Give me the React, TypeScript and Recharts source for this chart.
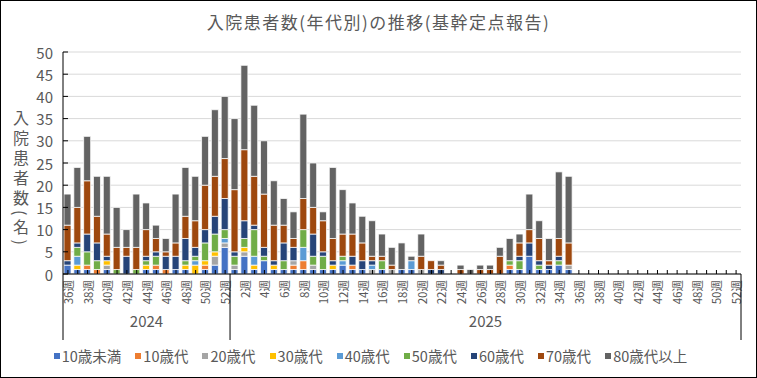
import { BarChart, Bar, XAxis, YAxis, CartesianGrid, Legend } from "recharts";

// 週（カテゴリ）
const weeks2024 = [36, 37, 38, 39, 40, 41, 42, 43, 44, 45, 46, 47, 48, 49, 50, 51, 52];
const weeks2025 = [
  1, 2, 3, 4, 5, 6, 7, 8, 9, 10, 11, 12, 13, 14, 15, 16, 17, 18, 19, 20, 21, 22, 23, 24, 25, 26,
  27, 28, 29, 30, 31, 32, 33, 34, 35, 36, 37, 38, 39, 40, 41, 42, 43, 44, 45, 46, 47, 48, 49, 50, 51, 52,
];
const yAxisTicks = [0, 5, 10, 15, 20, 25, 30, 35, 40, 45, 50];

// 年代別の入院患者数（2024年36週〜2025年35週、以降は未報告）
const under10 = [
  2, 1, 1, 0, 1, 0, 0, 0, 1, 1, 0, 1, 1, 0, 1, 2, 6,
  1, 4, 1, 3, 1, 1, 1, 1, 1, 1, 1, 2, 1, 1, 0, 1, 0, 1, 1, 0, 0, 0, 0, 0, 0, 0, 0, 0, 1, 1, 4, 1, 1, 2, 1,
];
const teens = [
  0, 0, 1, 1, 0, 0, 0, 0, 0, 1, 1, 0, 0, 0, 1, 0, 0,
  0, 0, 0, 0, 0, 0, 1, 2, 0, 0, 0, 0, 1, 0, 0, 0, 0, 0, 0, 0, 0, 0, 0, 0, 0, 0, 0, 0, 1, 0, 0, 0, 0, 0, 0,
];
const twenties = [
  0, 0, 0, 0, 1, 0, 0, 0, 0, 0, 0, 0, 0, 0, 0, 2, 1,
  1, 1, 0, 0, 0, 0, 1, 0, 1, 0, 0, 0, 0, 0, 1, 0, 1, 0, 0, 1, 0, 0, 0, 0, 0, 0, 0, 0, 0, 0, 0, 0, 0, 0, 1,
];
const thirties = [
  0, 1, 0, 0, 1, 0, 0, 0, 1, 0, 0, 0, 1, 2, 1, 1, 0,
  0, 1, 1, 0, 1, 0, 0, 0, 0, 0, 1, 0, 0, 0, 0, 0, 0, 0, 0, 0, 0, 0, 0, 0, 0, 0, 0, 0, 0, 0, 0, 0, 0, 0, 0,
];
const forties = [
  0, 2, 0, 0, 0, 0, 0, 0, 0, 0, 0, 0, 0, 1, 0, 0, 1,
  0, 0, 2, 0, 0, 0, 0, 3, 0, 0, 0, 1, 0, 0, 1, 0, 0, 0, 2, 0, 0, 0, 0, 0, 0, 0, 0, 0, 0, 0, 0, 0, 0, 0, 0,
];
const fifties = [
  0, 2, 3, 2, 0, 1, 0, 1, 1, 2, 0, 0, 1, 1, 4, 4, 2,
  2, 2, 6, 1, 0, 2, 0, 4, 2, 3, 0, 1, 0, 0, 0, 2, 0, 0, 0, 0, 0, 0, 0, 0, 0, 0, 0, 0, 1, 2, 0, 1, 0, 1, 0,
];
const sixties = [
  1, 1, 4, 4, 1, 0, 4, 0, 1, 1, 3, 3, 5, 2, 3, 4, 7,
  1, 4, 1, 2, 1, 4, 3, 0, 5, 1, 1, 0, 2, 2, 1, 0, 0, 0, 0, 0, 1, 1, 0, 0, 0, 0, 0, 0, 0, 1, 3, 1, 1, 1, 0,
];
const seventies = [
  8, 8, 12, 6, 5, 5, 2, 5, 6, 3, 1, 3, 5, 6, 10, 9, 9,
  14, 16, 11, 12, 8, 4, 2, 7, 6, 7, 5, 5, 5, 4, 1, 1, 1, 0, 0, 3, 2, 1, 0, 1, 0, 1, 1, 4, 0, 3, 3, 5, 1, 4, 5,
];
const over80 = [
  7, 9, 10, 9, 13, 9, 4, 12, 6, 3, 3, 11, 11, 10, 11, 15, 14,
  16, 19, 16, 12, 10, 6, 6, 19, 10, 2, 16, 10, 7, 6, 8, 5, 4, 6, 1, 5, 0, 1, 0, 1, 1, 1, 1, 2, 5, 2, 8, 4, 5, 15, 15,
];

const series = [
  { key: "u10", name: "10歳未満", color: "#4472C4", values: under10 },
  { key: "a10", name: "10歳代", color: "#ED7D31", values: teens },
  { key: "a20", name: "20歳代", color: "#A5A5A5", values: twenties },
  { key: "a30", name: "30歳代", color: "#FFC000", values: thirties },
  { key: "a40", name: "40歳代", color: "#5B9BD5", values: forties },
  { key: "a50", name: "50歳代", color: "#70AD47", values: fifties },
  { key: "a60", name: "60歳代", color: "#264478", values: sixties },
  { key: "a70", name: "70歳代", color: "#9E480E", values: seventies },
  { key: "a80", name: "80歳代以上", color: "#636363", values: over80 },
];

const categories = [
  ...weeks2024.map((w) => ({ year: "2024", week: w })),
  ...weeks2025.map((w) => ({ year: "2025", week: w })),
];

const data = categories.map((c, i) => {
  const row: Record<string, string | number | undefined> = { key: `${c.year}-${c.week}` };
  series.forEach((s) => {
    row[s.key] = s.values[i];
  });
  return row;
});

const groups = [
  { year: "2024", first: 0, last: weeks2024.length - 1 },
  { year: "2025", first: weeks2024.length, last: categories.length - 1 },
];

const W = 757;
const H = 378;
const LEFT = 63;
const RIGHT = 741;
const PITCH = (RIGHT - LEFT) / categories.length;
const TEXT = "#595959";

function WeekTick(props: any) {
  const { x, y, index } = props;
  const c = categories[index];
  if (!c) return null;
  const ty = y + 6;
  return (
    <g>
      <line x1={x} x2={x} y1={y - 4} y2={y} stroke="#000" strokeWidth={1} />
      {c.week % 2 === 0 && (
        <text
          x={x}
          y={ty}
          transform={`rotate(-90 ${x} ${ty})`}
          textAnchor="end"
          dominantBaseline="central"
          fontSize={11.5}
          fill={TEXT}
        >
          {c.week}週
        </text>
      )}
      {groups.map((g) =>
        g.first === index ? (
          <g key={g.year}>
            <line x1={x - PITCH / 2} x2={x - PITCH / 2} y1={y} y2={y + 66} stroke="#000" />
            <text
              x={x + ((g.last - g.first) / 2) * PITCH}
              y={y + 53}
              textAnchor="middle"
              fontSize={15}
              fill={TEXT}
            >
              {g.year}
            </text>
          </g>
        ) : null
      )}
      {index === categories.length - 1 && (
        <line x1={x + PITCH / 2} x2={x + PITCH / 2} y1={y} y2={y + 66} stroke="#000" />
      )}
    </g>
  );
}

function ValueTick(props: any) {
  const { x, y, payload } = props;
  return (
    <g>
      <line x1={x} x2={x + 5} y1={y} y2={y} stroke="#000" />
      <text x={x - 10} y={y} textAnchor="end" dominantBaseline="central" fontSize={15} fill={TEXT}>
        {payload.value}
      </text>
    </g>
  );
}

function AgeLegend() {
  return (
    <div
      style={{
        display: "flex",
        justifyContent: "center",
        fontSize: 14.5,
        color: TEXT,
        lineHeight: "20px",
        paddingTop: 2,
      }}
    >
      {series.map((s) => (
        <span key={s.key} style={{ display: "inline-flex", alignItems: "center", margin: "0 7px" }}>
          <span
            style={{ display: "inline-block", width: 6, height: 6, background: s.color, marginRight: 2 }}
          />
          {s.name}
        </span>
      ))}
    </div>
  );
}

export default function App() {
  return (
    <div
      style={{
        position: "fixed",
        left: 0,
        top: 0,
        width: W,
        height: H,
        background: "#fff",
        fontFamily: "'Noto Sans CJK JP', sans-serif",
      }}
    >
      <div
        style={{
          position: "absolute",
          top: 10,
          left: 0,
          width: W,
          textAlign: "center",
          fontSize: 17,
          letterSpacing: 1.5,
          color: TEXT,
          lineHeight: "24px",
        }}
      >
        入院患者数(年代別)の推移(基幹定点報告)
      </div>
      <div
        style={{
          position: "absolute",
          left: 12,
          top: 110,
          writingMode: "vertical-rl",
          fontSize: 16,
          letterSpacing: 4,
          color: TEXT,
          lineHeight: "18px",
        }}
      >
        入院患者数(名)
      </div>
      <BarChart
        width={W}
        height={H}
        data={data}
        margin={{ top: 52, right: W - RIGHT, bottom: 10, left: 0 }}
        barSize={7}
      >
        <CartesianGrid vertical={false} stroke="#D9D9D9" />
        <XAxis
          dataKey="key"
          interval={0}
          height={70}
          tickSize={0}
          tickMargin={0}
          tickLine={false}
          axisLine={{ stroke: "#000" }}
          tick={<WeekTick />}
        />
        <YAxis
          width={LEFT}
          domain={[0, 50]}
          ticks={yAxisTicks}
          interval={0}
          tickSize={0}
          tickMargin={0}
          tickLine={false}
          axisLine={{ stroke: "#000" }}
          tick={<ValueTick />}
        />
        <Legend verticalAlign="bottom" height={24} content={() => <AgeLegend />} />
        {series.map((s) => (
          <Bar
            key={s.key}
            dataKey={s.key}
            name={s.name}
            stackId="a"
            fill={s.color}
            stroke="#fff"
            strokeWidth={0.75}
            isAnimationActive={false}
          />
        ))}
      </BarChart>
      <div
        style={{
          position: "absolute",
          left: 0,
          top: 0,
          width: W,
          height: H,
          boxSizing: "border-box",
          border: "1px solid #000",
          pointerEvents: "none",
        }}
      />
    </div>
  );
}
